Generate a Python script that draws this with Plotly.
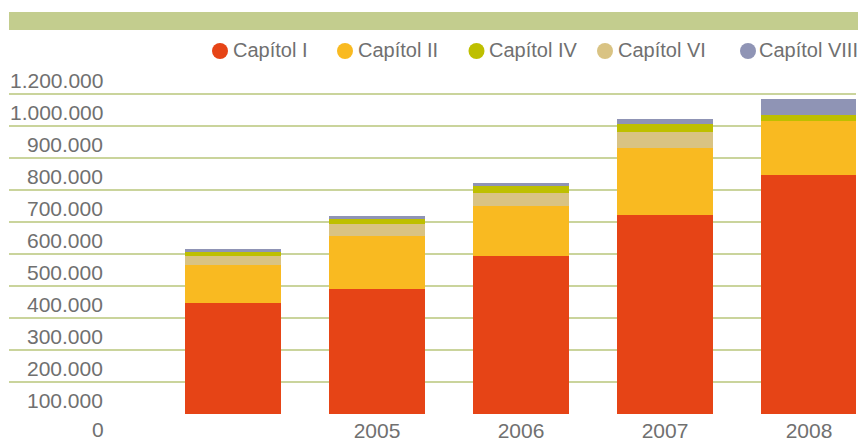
import plotly.graph_objects as go

# ---- data ----
years = [2004, 2005, 2006, 2007, 2008]
year_labels = ["", "2005", "2006", "2007", "2008"]
cap_I = [347000, 391000, 495000, 622000, 747000]
cap_II = [119000, 166000, 156000, 210000, 169000]
cap_VI = [29000, 37000, 40000, 50000, 0]
cap_IV = [11000, 15000, 22000, 25000, 18000]
cap_VIII = [10000, 11000, 9000, 15000, 50000]
y_ticks = [0, 100000, 200000, 300000, 400000, 500000, 600000, 700000,
           800000, 900000, 1000000, 1100000]
y_tick_labels = ["0", "100.000", "200.000", "300.000", "400.000", "500.000",
                 "600.000", "700.000", "800.000", "900.000", "1.000.000", "1.200.000"]

# stacking order (bottom -> top)
stack = [("Capítol I", cap_I, "#e64416"),
         ("Capítol II", cap_II, "#f9ba21"),
         ("Capítol VI", cap_VI, "#d9c383"),
         ("Capítol IV", cap_IV, "#bebf00"),
         ("Capítol VIII", cap_VIII, "#8f94b5")]
legend_order = ["Capítol I", "Capítol II", "Capítol IV", "Capítol VI", "Capítol VIII"]
colors = {n: c for n, _, c in stack}

W, H = 858, 442
ML, MR, MT, MB = 9, 2, 62, 28
PW = W - ML - MR
PH = H - MT - MB
TXT = "#707070"
FONT = "Liberation Sans, Arial, sans-serif"

fig = go.Figure()
for name, vals, col in stack:
    fig.add_trace(go.Bar(x=years, y=vals, name=name, marker=dict(color=col, line=dict(width=0)),
                         width=0.6667, showlegend=False))

# pixel helpers for layout decoration
def px_x(p):
    return (p - ML) / PW

def px_y(p):
    return (MT + PH - p) / PH

annotations = []
shapes = []

# top green band
shapes.append(dict(type="rect", xref="paper", yref="paper", x0=px_x(9), x1=px_x(858),
                   y0=px_y(30), y1=px_y(12), fillcolor="#c3cd8e", line=dict(width=0), layer="below"))

# custom legend
leg_circle_x = [220, 345, 476.5, 605, 748]
leg_text_x = [231, 356, 487, 616, 757]
leg_y = 51
for name, cx, tx in zip(legend_order, leg_circle_x, leg_text_x):
    shapes.append(dict(type="circle", xref="paper", yref="paper", xsizemode="pixel", ysizemode="pixel",
                       xanchor=px_x(cx), yanchor=px_y(leg_y), x0=-8, x1=8, y0=-8, y1=8,
                       fillcolor=colors[name], line=dict(width=0)))
    annotations.append(dict(text=name, xref="paper", yref="paper", x=px_x(tx), y=px_y(leg_y - 1),
                            xanchor="left", yanchor="middle", showarrow=False,
                            font=dict(family=FONT, size=20, color=TXT)))

# y labels drawn below their grid lines
for v, lab in zip(y_ticks, y_tick_labels):
    if v == y_ticks[0]:
        # bottom label: keep inside the picture
        annotations.append(dict(text=lab, xref="paper", yref="y", x=px_x(105), y=v, yshift=-MB,
                                xanchor="right", yanchor="bottom", showarrow=False, borderpad=0,
                                font=dict(family=FONT, size=21, color=TXT)))
    else:
        annotations.append(dict(text=lab, xref="paper", yref="y", x=px_x(105), y=v, yshift=-18,
                                xanchor="right", yanchor="middle", showarrow=False,
                                font=dict(family=FONT, size=21, color=TXT)))

fig.update_layout(
    width=W, height=H,
    margin=dict(l=ML, r=MR, t=MT, b=MB, autoexpand=False),
    barmode="stack",
    bargap=0,
    plot_bgcolor="white", paper_bgcolor="white",
    showlegend=False,
    font=dict(family=FONT, size=21, color=TXT),
    xaxis=dict(range=[years[0] - 1.5556, years[0] + 4.3264], tickvals=years[1:], ticktext=year_labels[1:],
               showgrid=False, zeroline=False, showline=False, ticks="", ticklabelstandoff=2,
               automargin=False, tickfont=dict(size=21, color=TXT)),
    yaxis=dict(range=[0, 1100000], tickvals=y_ticks, showticklabels=False, showgrid=True,
               automargin=False,
               gridcolor="#cad49c", gridwidth=2, zeroline=False, showline=False, ticks=""),
    shapes=shapes,
    annotations=annotations,
)

fig.write_html("out.html", config={"displayModeBar": False},
               post_script="document.body.style.margin='0';document.body.style.padding='0';")
